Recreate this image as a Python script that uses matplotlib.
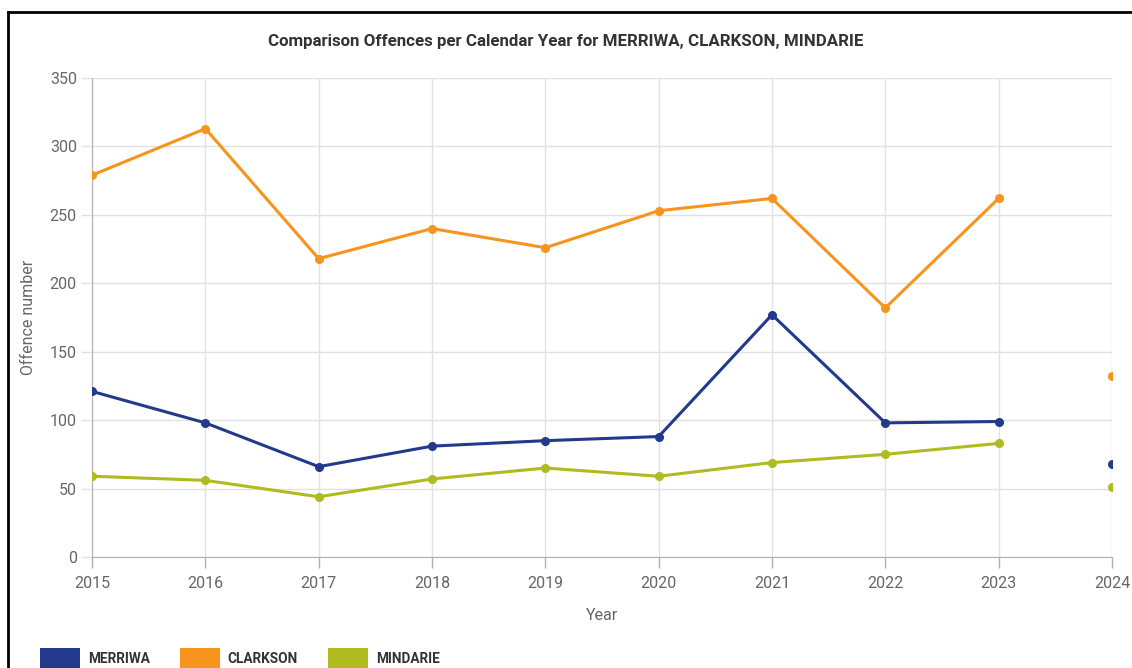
import matplotlib.pyplot as plt
from matplotlib.lines import Line2D
from matplotlib.patches import Rectangle

plt.rcParams['font.family'] = ['Roboto', 'DejaVu Sans']

years = [2015, 2016, 2017, 2018, 2019, 2020, 2021, 2022, 2023, 2024]
merriwa = [121, 98, 66, 81, 85, 88, 177, 98, 99, 68]
clarkson = [279, 313, 218, 240, 226, 253, 262, 182, 262, 132]
mindarie = [59, 56, 44, 57, 65, 59, 69, 75, 83, 51]

series = [("MERRIWA", merriwa, "#233a8c"),
          ("CLARKSON", clarkson, "#f7941d"),
          ("MINDARIE", mindarie, "#afbb1f")]

W, H = 1132, 668
fig = plt.figure(figsize=(W / 100, H / 100), dpi=100)
ax = fig.add_axes([0.0813, 0.1662, 0.901, 0.717])

for name, vals, color in series:
    # 2024 is not joined to the rest of the line
    ax.plot(years[:-1], vals[:-1], color=color, lw=2.2, marker="o", ms=5.5, zorder=3)
    ax.plot(years[-1:], vals[-1:], color=color, lw=0, marker="o", ms=5.5, zorder=3)

ax.set_xlim(2015, 2024)
ax.set_ylim(0, 350)
ax.set_xticks(years)
ax.set_yticks(range(0, 351, 50))
ax.grid(True, color="#e1e1e1", lw=1)
ax.set_axisbelow(True)
for side in ["top", "right"]:
    ax.spines[side].set_visible(False)
for side in ["left", "bottom"]:
    ax.spines[side].set_color("#b0b0b0")
ax.tick_params(colors="#666666", labelsize=11.5, length=8, width=1)
ax.tick_params(axis="x", pad=6, colors="#b0b0b0", labelcolor="#666666")
ax.tick_params(axis="y", colors="#e1e1e1", labelcolor="#666666", pad=3)

ax.set_xlabel("Year", color="#666666", fontsize=11.5, labelpad=12)
ax.set_ylabel("Offence number", color="#666666", fontsize=11.5, labelpad=10)

fig.text(0.5, 0.938, "Comparison Offences per Calendar Year for MERRIWA, CLARKSON, MINDARIE",
         ha="center", va="center", fontsize=12.2, fontweight="bold", color="#333333")

# legend drawn by hand, bottom edge is cut off like the reference
x0 = 40
for name, _, color in series:
    fig.add_artist(Rectangle((x0 / W, (H - 670) / H), 40 / W, 22 / H,
                             facecolor=color, edgecolor="none", transform=fig.transFigure))
    t = fig.text((x0 + 48) / W, (H - 659) / H, name, ha="left", va="center",
                 fontsize=9.8, fontweight="bold", color="#333333")
    fig.canvas.draw()
    bb = t.get_window_extent()
    x0 = bb.x1 + 30

# outer frame, cut at right and bottom
fig.add_artist(Line2D([0.0068, 0.0068], [0, 0.982], color="black", lw=2, transform=fig.transFigure))
fig.add_artist(Line2D([0.0068, 1], [0.982, 0.982], color="black", lw=2, transform=fig.transFigure))

fig.savefig("out.png", dpi=100)
